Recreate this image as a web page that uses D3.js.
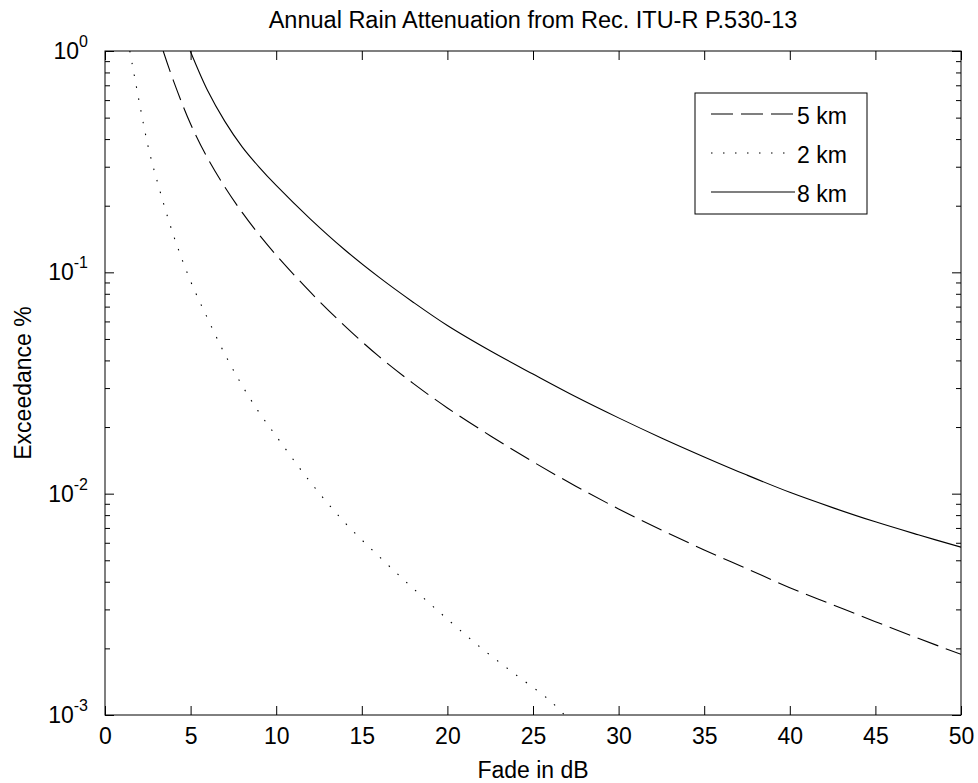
<!DOCTYPE html>
<html>
<head>
<meta charset="utf-8">
<style type="text/css">
    body { margin: 0; background: #fff; }
    text { font-family: "Liberation Sans", Arial, sans-serif; fill: #000; }
</style>
</head>
<body>
<svg width="978" height="783"></svg>
<script type="text/javascript" src="https://cdn.jsdelivr.net/npm/d3@7/dist/d3.min.js"></script>
<script type="text/javascript">

    // fade (dB) and exceedance (%), one pair per path length
    let fade5km = [3.4, 4, 5, 6, 7, 8, 9, 10, 12, 14, 16, 18, 20, 22.5, 25, 27.5, 30, 32.5, 35, 37.5, 40, 42.5, 45, 47.5, 50];
    let exc5km  = [1.0, 0.733, 0.468, 0.327, 0.243, 0.187, 0.148, 0.1197, 0.0813, 0.0573, 0.0417, 0.0315, 0.0244, 0.01828, 0.01393, 0.01081, 0.00853, 0.00685, 0.00557, 0.00458, 0.00376, 0.00315, 0.00264, 0.00222, 0.00188];

    let fade2km = [1.45, 2, 2.5, 3, 4, 5, 6, 7, 8, 9, 10, 12, 14, 16, 18, 20, 22, 24, 26, 27];
    let exc2km  = [1.0, 0.589, 0.376, 0.266, 0.147, 0.0912, 0.0617, 0.0427, 0.0309, 0.0233, 0.0182, 0.01127, 0.00741, 0.00521, 0.00373, 0.00271, 0.0020, 0.00152, 0.00116, 0.00097];

    let fade8km = [4.98, 6, 7, 8, 9, 10, 12, 14, 16, 18, 20, 22.5, 25, 27.5, 30, 32.5, 35, 37.5, 40, 42.5, 45, 47.5, 50];
    let exc8km  = [1.0, 0.661, 0.481, 0.370, 0.299, 0.247, 0.174, 0.1265, 0.0951, 0.0733, 0.0575, 0.0442, 0.0347, 0.0274, 0.0220, 0.01786, 0.01466, 0.01213, 0.01014, 0.00865, 0.00746, 0.00652, 0.00573];

    let seriesNames = [`5 km`, `2 km`, `8 km`];
    let xTicks = [0, 5, 10, 15, 20, 25, 30, 35, 40, 45, 50];
    let yTicks = [1, 0.1, 0.01, 0.001];
    let yExponents = [`0`, `-1`, `-2`, `-3`];

    var svg = d3.select("svg");
    // note: "top" is taken by window.top, so plot edges get their own names
    var pLeft = 105, pRight = 961, pTop = 51, pBottom = 715;

    var x = d3.scaleLinear().domain([0, 50]).range([pLeft, pRight]);
    var y = d3.scaleLog().domain([0.001, 1]).range([pBottom, pTop]);

    var series = [
        { name: seriesNames[0], xs: fade5km, ys: exc5km, dash: "22,8" },
        { name: seriesNames[1], xs: fade2km, ys: exc2km, dash: "1.5,10.5" },
        { name: seriesNames[2], xs: fade8km, ys: exc8km, dash: null }
    ];

    svg.append("clipPath").attr("id", "plotclip")
        .append("rect")
        .attr("x", pLeft).attr("y", pTop)
        .attr("width", pRight - pLeft).attr("height", pBottom - pTop);

    var line = d3.line()
        .x(function(d) { return x(d[0]); })
        .y(function(d) { return y(d[1]); })
        .curve(d3.curveCatmullRom.alpha(0.5));

    svg.append("g").attr("clip-path", "url(#plotclip)")
        .selectAll("path")
        .data(series)
        .enter()
        .append("path")
        .attr("d", function(s) { return line(d3.zip(s.xs, s.ys)); })
        .attr("fill", "none")
        .attr("stroke", "#000")
        .attr("stroke-width", 1.1)
        .attr("stroke-dasharray", function(s) { return s.dash; });

    // axes: bottom/left with labels, top/right ticks only, all ticks pointing in
    var minorTicks = [];
    yTicks.slice(1).forEach(function(t) {
        for (var k = 2; k <= 9; k++) minorTicks.push(t * k);
    });

    svg.append("g").attr("transform", "translate(0," + pBottom + ")")
        .call(d3.axisBottom(x).tickValues(xTicks).tickSizeInner(-9).tickSizeOuter(0).tickPadding(13));
    svg.append("g").attr("transform", "translate(0," + pTop + ")")
        .call(d3.axisTop(x).tickValues(xTicks).tickSizeInner(-9).tickSizeOuter(0).tickFormat(""));
    svg.append("g").attr("transform", "translate(" + pLeft + ",0)")
        .call(d3.axisLeft(y).tickValues(yTicks).tickSizeInner(-9).tickSizeOuter(0).tickFormat(""));
    svg.append("g").attr("transform", "translate(" + pRight + ",0)")
        .call(d3.axisRight(y).tickValues(yTicks).tickSizeInner(-9).tickSizeOuter(0).tickFormat(""));
    svg.append("g").attr("transform", "translate(" + pLeft + ",0)")
        .call(d3.axisLeft(y).tickValues(minorTicks).tickSizeInner(-5).tickSizeOuter(0).tickFormat(""));
    svg.append("g").attr("transform", "translate(" + pRight + ",0)")
        .call(d3.axisRight(y).tickValues(minorTicks).tickSizeInner(-5).tickSizeOuter(0).tickFormat(""));

    svg.selectAll(".domain").remove();
    svg.selectAll(".tick line").attr("stroke", "#000");
    svg.selectAll(".tick text").attr("font-size", 23).attr("font-family", "Liberation Sans, Arial, sans-serif");

    // box round the plot
    svg.append("rect")
        .attr("x", pLeft).attr("y", pTop)
        .attr("width", pRight - pLeft).attr("height", pBottom - pTop)
        .attr("fill", "none").attr("stroke", "#000").attr("stroke-width", 1);

    // y tick labels as 10 with superscript exponent
    var ylab = svg.append("g").selectAll("text")
        .data(yTicks)
        .enter()
        .append("text")
        .attr("x", 88)
        .attr("y", function(d) { return y(d) + 8; })
        .attr("text-anchor", "end")
        .attr("font-size", 23);
    ylab.append("tspan").text("10");
    ylab.append("tspan")
        .attr("font-size", 16)
        .attr("dy", -12)
        .text(function(d, i) { return yExponents[i]; });

    svg.append("text")
        .attr("x", (pLeft + pRight) / 2).attr("y", 28)
        .attr("text-anchor", "middle").attr("font-size", 23.5)
        .text("Annual Rain Attenuation from Rec. ITU-R P.530-13");

    svg.append("text")
        .attr("x", (pLeft + pRight) / 2).attr("y", 778)
        .attr("text-anchor", "middle").attr("font-size", 23)
        .text("Fade in dB");

    svg.append("text")
        .attr("transform", "translate(31," + (pTop + pBottom) / 2 + ") rotate(-90)")
        .attr("text-anchor", "middle").attr("font-size", 23)
        .text("Exceedance %");

    // legend
    var lg = svg.append("g");
    lg.append("rect")
        .attr("x", 695).attr("y", 93).attr("width", 172).attr("height", 121)
        .attr("fill", "#fff").attr("stroke", "#000").attr("stroke-width", 1);
    var rows = lg.selectAll("g.row")
        .data(series)
        .enter()
        .append("g")
        .attr("class", "row")
        .attr("transform", function(d, i) { return "translate(0," + (114 + i * 39) + ")"; });
    rows.append("line")
        .attr("x1", 711).attr("x2", 795)
        .attr("y1", 0).attr("y2", 0)
        .attr("stroke", "#000").attr("stroke-width", 1.1)
        .attr("stroke-dasharray", function(d) { return d.dash; });
    rows.append("text")
        .attr("x", 797).attr("y", 10)
        .attr("font-size", 23)
        .text(function(d) { return d.name; });

</script>
</body>
</html>
